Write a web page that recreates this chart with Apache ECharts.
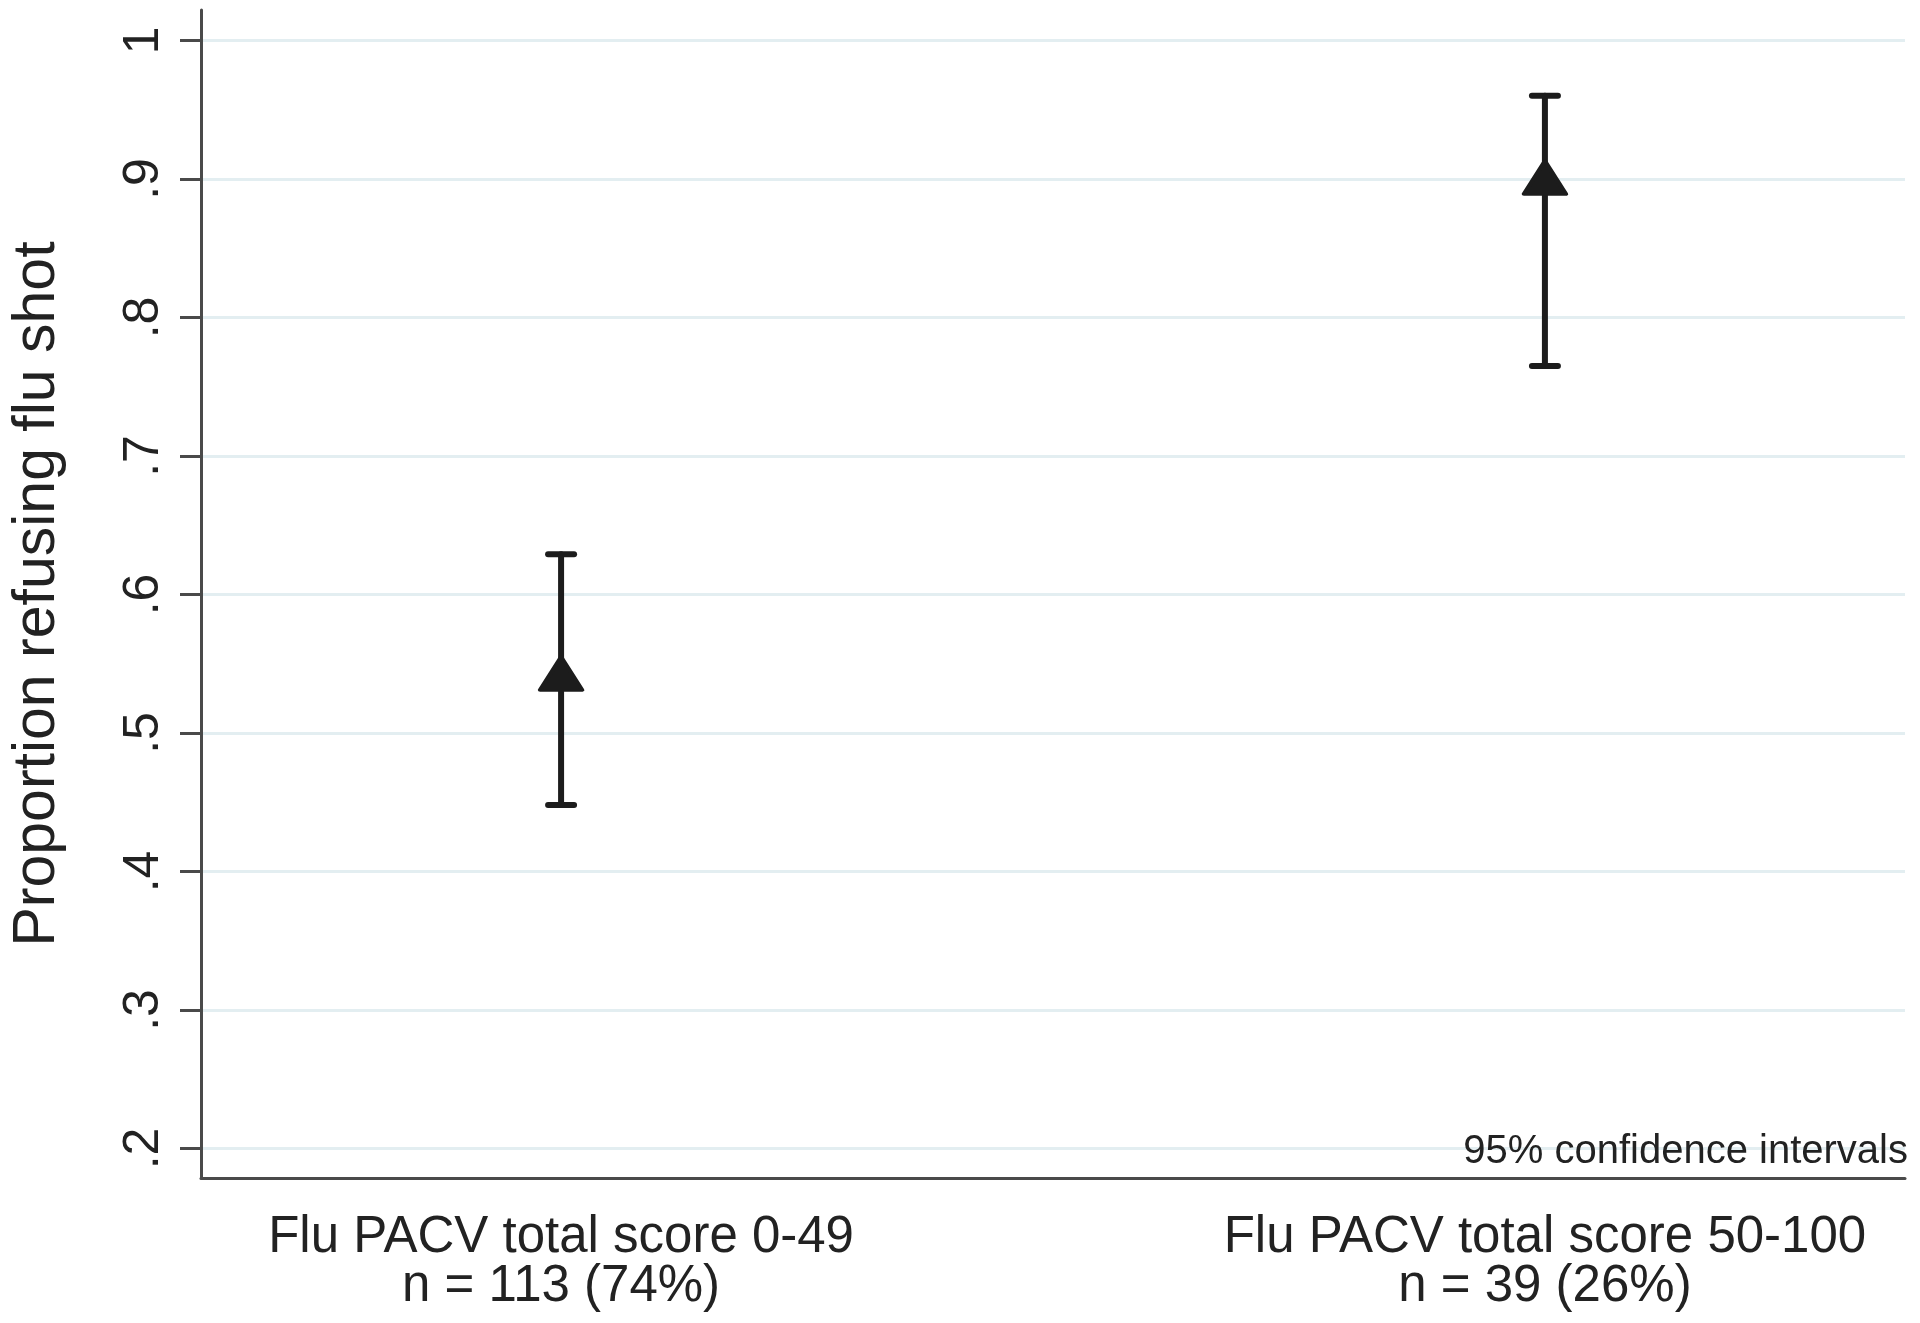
<!DOCTYPE html>
<html>
<head>
<meta charset="utf-8">
<script src="https://cdn.jsdelivr.net/npm/echarts@6/dist/echarts.min.js"></script>
<style>
  html, body { margin: 0; padding: 0; background: #fff; }
  #chart { width: 1920px; height: 1323px; }
</style>
</head>
<body>
<div id="chart"></div>
<script>
// groups along the x axis
const groupNames = ['Flu PACV total score 0-49', 'Flu PACV total score 50-100'];
const groupCounts = ['n = 113 (74%)', 'n = 39 (26%)'];
const groupPos = [1, 2];

// proportion refusing flu shot with 95% CI
const proportion = [0.543, 0.901];
const ciLower = [0.448, 0.765];
const ciUpper = [0.629, 0.960];

const yTicks = [0.2, 0.3, 0.4, 0.5, 0.6, 0.7, 0.8, 0.9, 1];

const axisColor = '#4a4a4a';
const markColor = '#1c1c1c';
const font = '"Liberation Sans", Arial, Helvetica, sans-serif';

const chart = echarts.init(document.getElementById('chart'));

const ciData = groupPos.map((x, i) => [x, ciLower[i], ciUpper[i]]);
const pointData = groupPos.map((x, i) => [x, proportion[i]]);

chart.setOption({
  backgroundColor: '#fff',
  animation: false,
  title: {
    text: '95% confidence intervals',
    right: 12,
    top: 1132,
    padding: 0,
    textStyle: { fontFamily: font, fontSize: 40, fontWeight: 'normal', color: '#222' }
  },
  grid: { left: 196, right: 15, top: 10, bottom: 145 },
  xAxis: {
    type: 'value',
    min: 0.634,
    max: 2.366,
    axisLine: { lineStyle: { color: axisColor, width: 3 } },
    axisTick: { show: false },
    splitLine: { show: false },
    axisLabel: {
      customValues: groupPos,
      margin: 35,
      fontFamily: font,
      fontSize: 51,
      lineHeight: 49,
      color: '#222',
      formatter: v => {
        const i = groupPos.indexOf(v);
        return i < 0 ? '' : groupNames[i] + '\n' + groupCounts[i];
      }
    }
  },
  yAxis: {
    type: 'value',
    min: 0.1787,
    max: 1.022,
    name: 'Proportion refusing flu shot',
    nameLocation: 'middle',
    nameGap: 134,
    nameTextStyle: { fontFamily: font, fontSize: 59, color: '#222' },
    axisLine: { show: true, lineStyle: { color: axisColor, width: 3 } },
    axisTick: { show: true, customValues: yTicks, length: 21, lineStyle: { color: axisColor, width: 3 } },
    splitLine: { show: true, lineStyle: { color: '#e3eef1', width: 3 } },
    axisLabel: {
      customValues: yTicks,
      rotate: 90,
      margin: 32,
      fontFamily: font,
      fontSize: 50,
      color: '#222',
      formatter: v => v >= 1 ? '1' : v.toFixed(1).replace(/^0/, '')
    }
  },
  series: [
    {
      type: 'custom',
      data: ciData,
      z: 3,
      renderItem: (params, api) => {
        const x = api.value(0);
        const lo = api.coord([x, api.value(1)]);
        const hi = api.coord([x, api.value(2)]);
        const cap = 13;
        const style = { stroke: markColor, lineWidth: 6, lineCap: 'round' };
        return {
          type: 'group',
          children: [
            { type: 'line', shape: { x1: lo[0], y1: lo[1], x2: hi[0], y2: hi[1] }, style },
            { type: 'line', shape: { x1: lo[0] - cap, y1: lo[1], x2: lo[0] + cap, y2: lo[1] }, style },
            { type: 'line', shape: { x1: hi[0] - cap, y1: hi[1], x2: hi[0] + cap, y2: hi[1] }, style }
          ]
        };
      }
    },
    {
      type: 'scatter',
      data: pointData,
      z: 4,
      symbol: 'triangle',
      symbolSize: [42, 33],
      itemStyle: { color: markColor, borderColor: markColor, borderWidth: 4, borderJoin: 'round', opacity: 1 }
    }
  ]
});
</script>
</body>
</html>
